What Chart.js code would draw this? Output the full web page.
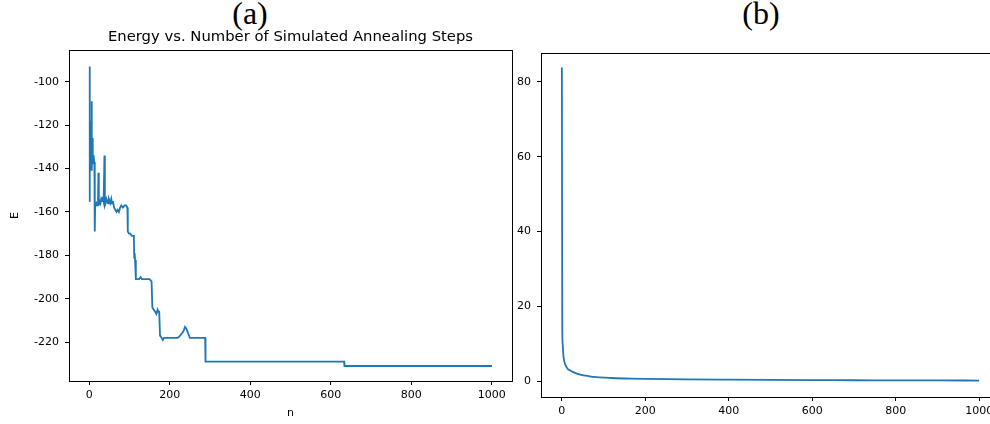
<!DOCTYPE html>
<html>
<head>
<meta charset="utf-8">
<script src="https://cdn.jsdelivr.net/npm/chart.js@4"></script>
<style>
  html, body { margin: 0; overflow: hidden; background: #fff; }
  body { width: 990px; height: 424px; position: relative; }
  canvas { position: absolute; top: 0; }
  .panel { position: absolute; top: -3px; font: 32px "Liberation Serif"; line-height: 32px; transform: translateX(-50%); color: #000; }
</style>
</head>
<body>
<div class="panel" style="left:250px">(a)</div>
<div class="panel" style="left:761px">(b)</div>
<canvas id="energyChart" width="520" height="424" style="left:0"></canvas>
<canvas id="rateChart" width="500" height="424" style="left:500px"></canvas>
<script>
// (a) energy per annealing step
const stepsA = [0, 1, 2, 3, 4, 5, 6, 7, 8, 9, 10, 11, 12, 13, 14, 15, 16, 18, 20, 22, 23, 24,
  26, 28, 30, 32, 34, 36, 38, 39, 41, 43, 45, 47, 49, 51, 53, 55, 57, 59, 62, 65, 68, 71, 74,
  77, 80, 84, 88, 92, 95, 96, 99, 102, 106, 111, 112, 113, 114, 116, 120, 124, 128, 131, 135,
  140, 145, 150, 155, 157, 160, 164, 167, 170, 172, 174, 176, 180, 183, 186, 190, 200, 210,
  220, 226, 230, 234, 238, 242, 246, 250, 260, 270, 280, 288, 289, 400, 500, 633, 634, 1000];
const energyA = [-155, -93, -143, -118, -141, -128, -109, -141, -126, -138, -134, -136, -135, -137, -169, -156, -157, -156, -157, -156, -142, -157,
  -155, -156, -154, -155, -153, -155, -134, -157, -156, -154, -155, -156, -154, -155, -156, -154, -156, -155, -158, -159, -160, -159, -160,
  -158, -157, -158, -157, -157, -158, -169, -170, -170, -171, -171, -181, -179, -182, -191, -191, -191, -190, -191, -191,
  -191, -191, -191, -192, -204, -205, -206, -207, -205, -206, -206, -217, -218, -219, -218, -218, -218, -218,
  -218, -217, -216, -215, -213, -214, -216, -218, -218, -218, -218, -218, -229, -229, -229, -229, -231, -231];

// (b) second panel curve
const stepsB = [0, 1, 2, 3, 4, 5, 7, 10, 15, 20, 30, 44, 63, 84, 120, 164, 200, 300, 400, 500, 600, 700, 800, 900, 1000];
const valueB = [83.8, 14, 10, 8, 6.5, 5.8, 4.8, 4.0, 3.2, 2.9, 2.3, 1.8, 1.4, 1.1, 0.88, 0.72, 0.64, 0.5, 0.42, 0.36, 0.31, 0.28, 0.25, 0.22, 0.2];

const ticksX = [0, 200, 400, 600, 800, 1000];
const ticksEY = [-220, -200, -180, -160, -140, -120, -100];
const ticksBY = [0, 20, 40, 60, 80];

const energyTitle = "Energy vs. Number of Simulated Annealing Steps";
const tickFont = { family: "DejaVu Sans", size: 11 };

// matplotlib style box around the plot area, plus an optional title centred over it
const framePlugin = {
  id: "frame",
  afterDatasetsDraw(chart, args, opts) {
    const { ctx, chartArea: a } = chart;
    ctx.save();
    ctx.strokeStyle = "#000";
    ctx.lineWidth = 1;
    ctx.strokeRect(Math.round(a.left) + 0.5, Math.round(a.top) + 0.5,
      Math.round(a.right - a.left), Math.round(a.bottom - a.top));
    if (opts.text) {
      ctx.fillStyle = "#000";
      ctx.font = "14.8px 'DejaVu Sans'";
      ctx.textAlign = "center";
      ctx.textBaseline = "middle";
      ctx.fillText(opts.text, (a.left + a.right) / 2, a.top - 13);
    }
    ctx.restore();
  },
};

function axis(extra) {
  return Object.assign({
    type: "linear",
    border: { display: false },
    grid: { drawOnChartArea: false, drawTicks: true, tickLength: 4, color: "#000" },
    ticks: { font: tickFont, color: "#000", padding: 4, callback: (v) => String(v) },
  }, extra);
}

function lineDataset(xs, ys, extra) {
  return Object.assign({
    data: xs.map((x, i) => ({ x: x, y: ys[i] })),
    borderColor: "#1f77b4",
    borderWidth: 1.8,
    pointRadius: 0,
    fill: false,
  }, extra);
}

new Chart(document.getElementById("energyChart"), {
  type: "line",
  data: { datasets: [lineDataset(stepsA, energyA, { tension: 0 })] },
  plugins: [framePlugin],
  options: {
    responsive: false,
    animation: false,
    devicePixelRatio: 1,
    layout: { padding: { top: 50, right: 8, bottom: 0, left: 0 } },
    plugins: {
      legend: { display: false },
      tooltip: { enabled: false },
      frame: { text: energyTitle },
    },
    scales: {
      x: axis({
        min: -50, max: 1050,
        afterBuildTicks: (s) => { s.ticks = ticksX.map((v) => ({ value: v })); },
        afterFit: (s) => { s.height = 43; },
        title: { display: true, text: "n", font: tickFont, color: "#000", padding: { top: 0, bottom: 4 } },
      }),
      y: axis({
        min: -237.9, max: -85.4,
        afterBuildTicks: (s) => { s.ticks = ticksEY.map((v) => ({ value: v })); },
        afterFit: (s) => { s.width = 69; },
        ticks: { font: tickFont, color: "#000", padding: 6, callback: (v) => String(v) },
        title: { display: true, text: "E", font: tickFont, color: "#000", padding: { top: 9, bottom: 0 } },
      }),
    },
  },
});

new Chart(document.getElementById("rateChart"), {
  type: "line",
  data: { datasets: [lineDataset(stepsB, valueB, { cubicInterpolationMode: "monotone" })] },
  plugins: [framePlugin],
  options: {
    responsive: false,
    animation: false,
    devicePixelRatio: 1,
    layout: { padding: { top: 53, right: 0, bottom: 0, left: 0 } },
    plugins: { legend: { display: false }, tooltip: { enabled: false } },
    scales: {
      x: axis({
        min: -50, max: 1050,
        afterBuildTicks: (s) => { s.ticks = ticksX.map((v) => ({ value: v })); },
        afterFit: (s) => { s.height = 27; },
      }),
      y: axis({
        min: -4.2, max: 87.7,
        afterBuildTicks: (s) => { s.ticks = ticksBY.map((v) => ({ value: v })); },
        afterFit: (s) => { s.width = 41; },
        ticks: { font: tickFont, color: "#000", padding: 6, callback: (v) => String(v) },
      }),
    },
  },
});
</script>
</body>
</html>
